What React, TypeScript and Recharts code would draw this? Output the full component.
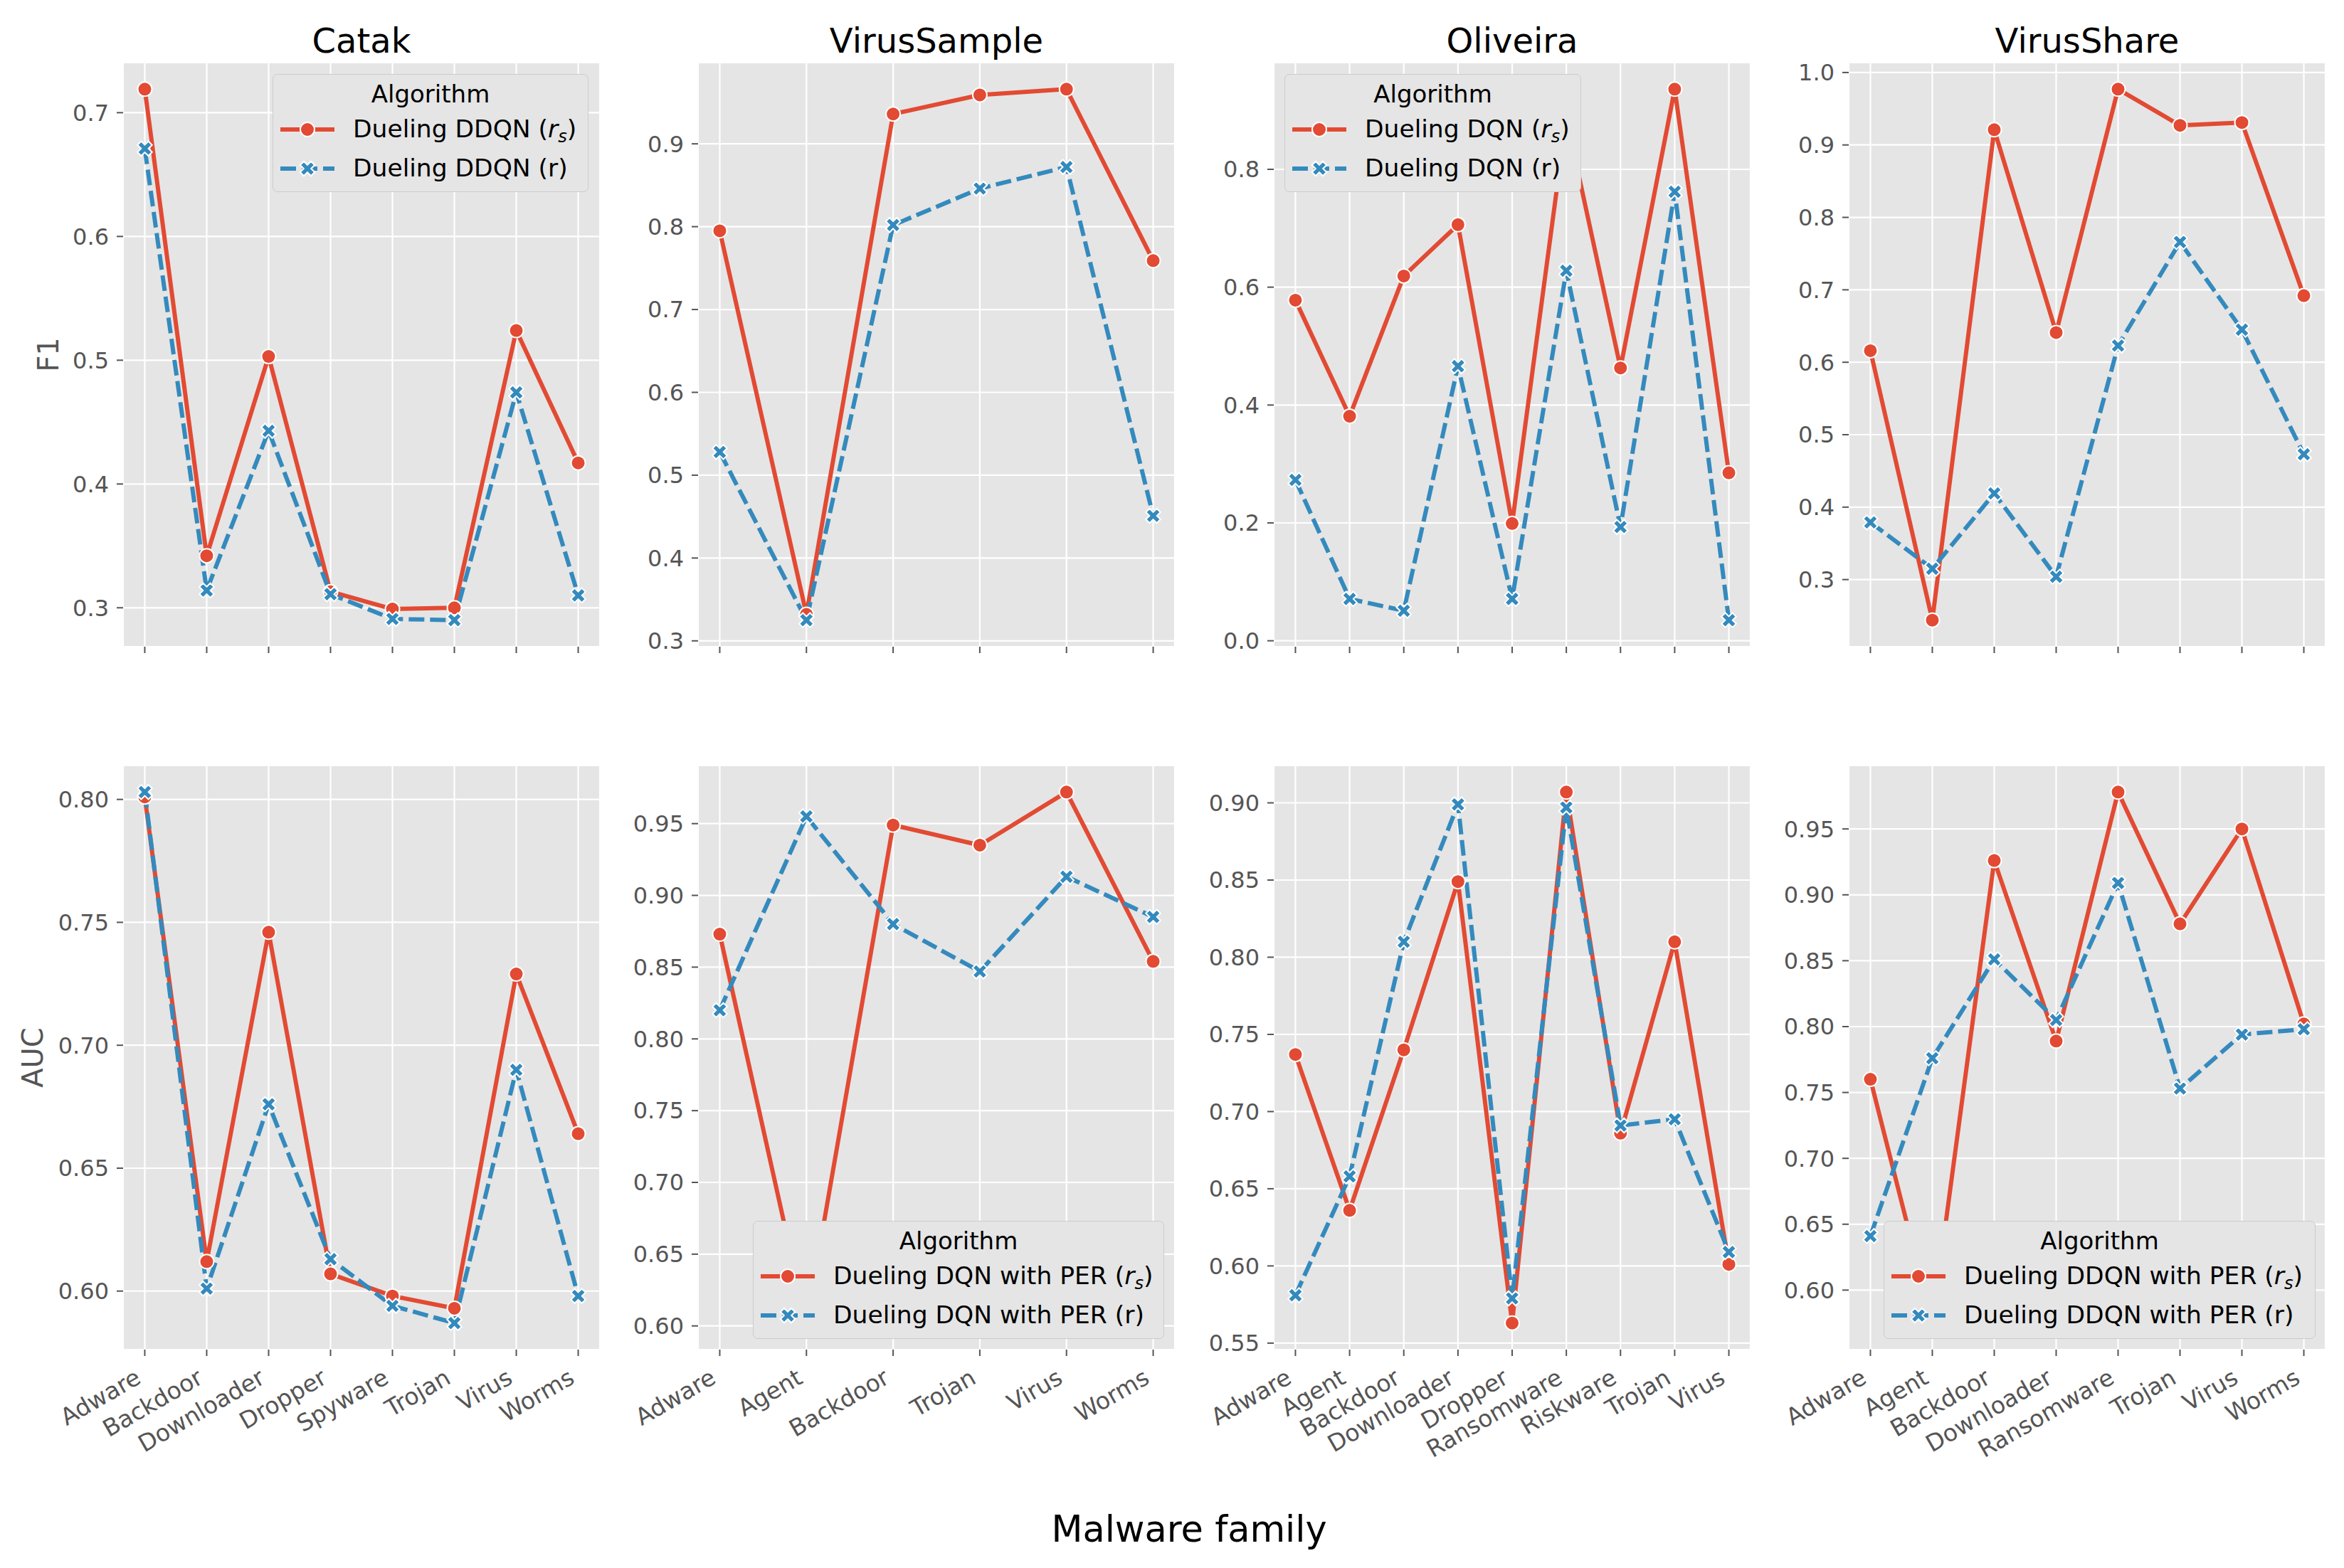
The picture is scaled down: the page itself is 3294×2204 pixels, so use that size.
import React from 'react';
import { LineChart, Line, XAxis, YAxis, CartesianGrid } from 'recharts';

const RED = '#E24A33';
const BLUE = '#348ABD';
const FONT = '"DejaVu Sans", "Noto Sans", sans-serif';

// malware families per dataset
const catakFamilies = ['Adware', 'Backdoor', 'Downloader', 'Dropper', 'Spyware', 'Trojan', 'Virus', 'Worms'];
const virusSampleFamilies = ['Adware', 'Agent', 'Backdoor', 'Trojan', 'Virus', 'Worms'];
const oliveiraFamilies = ['Adware', 'Agent', 'Backdoor', 'Downloader', 'Dropper', 'Ransomware', 'Riskware', 'Trojan', 'Virus'];
const virusShareFamilies = ['Adware', 'Agent', 'Backdoor', 'Downloader', 'Ransomware', 'Trojan', 'Virus', 'Worms'];

// F1 (top row), rs = shaped reward, r = plain reward
const catakF1Rs = [0.719, 0.342, 0.503, 0.313, 0.299, 0.300, 0.524, 0.417];
const catakF1R = [0.671, 0.314, 0.443, 0.311, 0.291, 0.290, 0.474, 0.310];
const virusSampleF1Rs = [0.795, 0.332, 0.936, 0.959, 0.966, 0.759];
const virusSampleF1R = [0.528, 0.325, 0.802, 0.846, 0.872, 0.451];
const oliveiraF1Rs = [0.578, 0.381, 0.619, 0.706, 0.199, 0.887, 0.463, 0.936, 0.285];
const oliveiraF1R = [0.273, 0.071, 0.051, 0.466, 0.071, 0.628, 0.193, 0.762, 0.035];
const virusShareF1Rs = [0.616, 0.244, 0.921, 0.641, 0.977, 0.927, 0.931, 0.692];
const virusShareF1R = [0.379, 0.315, 0.419, 0.304, 0.623, 0.766, 0.645, 0.473];

// AUC (bottom row)
const catakAucRs = [0.801, 0.612, 0.746, 0.607, 0.598, 0.593, 0.729, 0.664];
const catakAucR = [0.803, 0.601, 0.676, 0.613, 0.594, 0.587, 0.690, 0.598];
const virusSampleAucRs = [0.873, 0.602, 0.949, 0.935, 0.972, 0.854];
const virusSampleAucR = [0.820, 0.955, 0.880, 0.847, 0.913, 0.885];
const oliveiraAucRs = [0.737, 0.636, 0.740, 0.849, 0.563, 0.907, 0.686, 0.810, 0.601];
const oliveiraAucR = [0.581, 0.658, 0.810, 0.899, 0.579, 0.897, 0.691, 0.695, 0.609];
const virusShareAucRs = [0.760, 0.575, 0.926, 0.789, 0.978, 0.878, 0.950, 0.802];
const virusShareAucR = [0.641, 0.776, 0.851, 0.805, 0.909, 0.753, 0.794, 0.798];

// tick values
const catakF1Ticks = [0.3, 0.4, 0.5, 0.6, 0.7];
const virusSampleF1Ticks = [0.3, 0.4, 0.5, 0.6, 0.7, 0.8, 0.9];
const oliveiraF1Ticks = [0.0, 0.2, 0.4, 0.6, 0.8];
const virusShareF1Ticks = [0.3, 0.4, 0.5, 0.6, 0.7, 0.8, 0.9, 1.0];
const catakAucTicks = [0.6, 0.65, 0.7, 0.75, 0.8];
const virusSampleAucTicks = [0.6, 0.65, 0.7, 0.75, 0.8, 0.85, 0.9, 0.95];
const oliveiraAucTicks = [0.55, 0.6, 0.65, 0.7, 0.75, 0.8, 0.85, 0.9];
const virusShareAucTicks = [0.6, 0.65, 0.7, 0.75, 0.8, 0.85, 0.9, 0.95];

const datasetTitles = ['Catak', 'VirusSample', 'Oliveira', 'VirusShare'];

// layout (px)
const PLOT_LEFTS = [173, 981, 1790, 2598];
const ROW_TOPS = [88, 1076];
const PLOT_W = 670;
const PLOT_H = 821;
const AXIS_W = 140;
const LINE_W = 6;

const CircleDot = (props: any) => {
  const { cx, cy } = props;
  if (cx == null || cy == null) return <g />;
  return <circle cx={cx} cy={cy} r={10} fill={RED} stroke="#fff" strokeWidth={2} />;
};

const xMarkerPoints = (cx: number, cy: number) => {
  const L = 10.8;
  const a = 3.7;
  const base = [[-a, -L], [a, -L], [a, -a], [L, -a], [L, a], [a, a], [a, L], [-a, L], [-a, a], [-L, a], [-L, -a], [-a, -a]];
  return base
    .map(([x, y]) => `${cx + (x - y) / Math.SQRT2},${cy + (x + y) / Math.SQRT2}`)
    .join(' ');
};

const XDot = (props: any) => {
  const { cx, cy } = props;
  if (cx == null || cy == null) return <g />;
  return <polygon points={xMarkerPoints(cx, cy)} fill={BLUE} stroke="#fff" strokeWidth={2} strokeLinejoin="miter" />;
};

const FamilyTick = (props: any) => {
  const { x, y, payload, families, show } = props;
  if (!show) return <g />;
  const px = x - 9;
  const py = y + 27;
  return (
    <text
      x={px}
      y={py}
      transform={`rotate(-30 ${px} ${py})`}
      textAnchor="end"
      dominantBaseline="central"
      fontSize={33}
      fill="#555555"
      fontFamily={FONT}
    >
      {families[payload.value]}
    </text>
  );
};

interface PanelProps {
  families: string[];
  rs: number[];
  r: number[];
  ticks: number[];
  decimals: number;
  col: number;
  row: number;
}

const Panel: React.FC<PanelProps> = ({ families, rs, r, ticks, decimals, col, row }) => {
  const data = families.map((f, i) => ({ i, family: f, rs: rs[i], r: r[i] }));
  const all = [...rs, ...r];
  const lo = Math.min(...all);
  const hi = Math.max(...all);
  const pad = (hi - lo) * 0.05;
  const n = families.length;
  const xPad = (n - 1) * 0.05;
  const showLabels = row === 1;
  const xAxisH = showLabels ? 240 : 30;

  return (
    <div style={{ position: 'absolute', left: PLOT_LEFTS[col] - AXIS_W, top: ROW_TOPS[row] }}>
      <LineChart
        width={AXIS_W + PLOT_W + 10}
        height={PLOT_H + xAxisH}
        data={data}
        margin={{ top: 0, right: 10, bottom: 0, left: 0 }}
        style={{ overflow: 'visible' }}
      >
        <CartesianGrid fill="#E5E5E5" stroke="#FFFFFF" strokeWidth={2.2} horizontal vertical />
        <XAxis
          dataKey="i"
          type="number"
          domain={[-xPad, n - 1 + xPad]}
          ticks={families.map((_, i) => i)}
          interval={0}
          height={xAxisH}
          axisLine={false}
          tickLine={{ stroke: '#555555', strokeWidth: 2 }}
          tickSize={9}
          tickMargin={0}
          allowDataOverflow
          tick={<FamilyTick families={families} show={showLabels} />}
        />
        <YAxis
          type="number"
          domain={[lo - pad, hi + pad]}
          ticks={ticks}
          interval={0}
          width={AXIS_W}
          axisLine={false}
          tickLine={{ stroke: '#555555', strokeWidth: 2 }}
          tickSize={9}
          tickMargin={11}
          allowDataOverflow
          tickFormatter={(v: number) => v.toFixed(decimals)}
          tick={{ fontSize: 32, fill: '#555555', fontFamily: FONT }}
        />
        <Line
          type="linear"
          dataKey="rs"
          stroke={RED}
          strokeWidth={LINE_W}
          strokeLinejoin="round"
          dot={(p: any) => <CircleDot key={`rs-${p.index}`} {...p} />}
          activeDot={false}
          isAnimationActive={false}
        />
        <Line
          type="linear"
          dataKey="r"
          stroke={BLUE}
          strokeWidth={LINE_W}
          strokeDasharray="22 8"
          strokeLinejoin="round"
          dot={(p: any) => <XDot key={`r-${p.index}`} {...p} />}
          activeDot={false}
          isAnimationActive={false}
        />
      </LineChart>
    </div>
  );
};

const RsLabel = ({ name }: { name: string }) => (
  <span>
    {name} (<i>r</i>
    <span style={{ fontSize: '0.7em', position: 'relative', top: '0.3em', fontStyle: 'italic' }}>s</span>)
  </span>
);

interface LegendBoxProps {
  left: number;
  top: number;
  width: number;
  name: string;
}

const LegendBox: React.FC<LegendBoxProps> = ({ left, top, width, name }) => (
  <div
    style={{
      position: 'absolute',
      left,
      top,
      width,
      height: 166,
      boxSizing: 'border-box',
      background: '#E5E5E5',
      border: '1.5px solid #CCCCCC',
      borderRadius: 7,
      fontFamily: FONT,
      fontSize: 34.5,
      color: '#000',
    }}
  >
    <div style={{ height: 44, marginTop: 5, lineHeight: '44px', textAlign: 'center', fontSize: 34 }}>Algorithm</div>
    <div style={{ display: 'flex', alignItems: 'center', height: 55 }}>
      <svg width={76} height={30} style={{ marginLeft: 10, flex: 'none' }}>
        <line x1={0} y1={15} x2={76} y2={15} stroke={RED} strokeWidth={LINE_W} />
        <CircleDot cx={38} cy={15} />
      </svg>
      <div style={{ marginLeft: 26, whiteSpace: 'nowrap', lineHeight: 1 }}>
        <RsLabel name={name} />
      </div>
    </div>
    <div style={{ display: 'flex', alignItems: 'center', height: 55 }}>
      <svg width={76} height={30} style={{ marginLeft: 10, flex: 'none' }}>
        <line x1={0} y1={15} x2={76} y2={15} stroke={BLUE} strokeWidth={LINE_W} strokeDasharray="22 8" />
        <XDot cx={38} cy={15} />
      </svg>
      <div style={{ marginLeft: 26, whiteSpace: 'nowrap', lineHeight: 1 }}>{name} (r)</div>
    </div>
  </div>
);

export default function App() {
  return (
    <div
      style={{
        position: 'absolute',
        left: 0,
        top: 0,
        width: 3294,
        height: 2204,
        background: '#FFFFFF',
        fontFamily: FONT,
        overflow: 'hidden',
      }}
    >
      <svg width={3294} height={2204} style={{ position: 'absolute', left: 0, top: 0, overflow: 'visible' }}>
        {datasetTitles.map((t, c) => (
          <text key={t} x={PLOT_LEFTS[c] + PLOT_W / 2} y={74} textAnchor="middle" fontSize={48} fontFamily={FONT} fill="#000">
            {t}
          </text>
        ))}
        <text x={82} y={ROW_TOPS[0] + PLOT_H / 2} transform={`rotate(-90 82 ${ROW_TOPS[0] + PLOT_H / 2})`} textAnchor="middle" fontSize={40} fontFamily={FONT} fill="#555555">
          F1
        </text>
        <text x={60} y={ROW_TOPS[1] + PLOT_H / 2} transform={`rotate(-90 60 ${ROW_TOPS[1] + PLOT_H / 2})`} textAnchor="middle" fontSize={40} fontFamily={FONT} fill="#555555">
          AUC
        </text>
        <text x={1671} y={2167} textAnchor="middle" fontSize={51} fontFamily={FONT} fill="#000">
          Malware family
        </text>
      </svg>

      <Panel families={catakFamilies} rs={catakF1Rs} r={catakF1R} ticks={catakF1Ticks} decimals={1} col={0} row={0} />
      <Panel families={virusSampleFamilies} rs={virusSampleF1Rs} r={virusSampleF1R} ticks={virusSampleF1Ticks} decimals={1} col={1} row={0} />
      <Panel families={oliveiraFamilies} rs={oliveiraF1Rs} r={oliveiraF1R} ticks={oliveiraF1Ticks} decimals={1} col={2} row={0} />
      <Panel families={virusShareFamilies} rs={virusShareF1Rs} r={virusShareF1R} ticks={virusShareF1Ticks} decimals={1} col={3} row={0} />

      <Panel families={catakFamilies} rs={catakAucRs} r={catakAucR} ticks={catakAucTicks} decimals={2} col={0} row={1} />
      <Panel families={virusSampleFamilies} rs={virusSampleAucRs} r={virusSampleAucR} ticks={virusSampleAucTicks} decimals={2} col={1} row={1} />
      <Panel families={oliveiraFamilies} rs={oliveiraAucRs} r={oliveiraAucR} ticks={oliveiraAucTicks} decimals={2} col={2} row={1} />
      <Panel families={virusShareFamilies} rs={virusShareAucRs} r={virusShareAucR} ticks={virusShareAucTicks} decimals={2} col={3} row={1} />

      <LegendBox left={383} top={104} width={444} name="Dueling DDQN" />
      <LegendBox left={1805} top={104} width={417} name="Dueling DQN" />
      <LegendBox left={1058} top={1716} width={578} name="Dueling DQN with PER" />
      <LegendBox left={2647} top={1716} width={607} name="Dueling DDQN with PER" />
    </div>
  );
}
